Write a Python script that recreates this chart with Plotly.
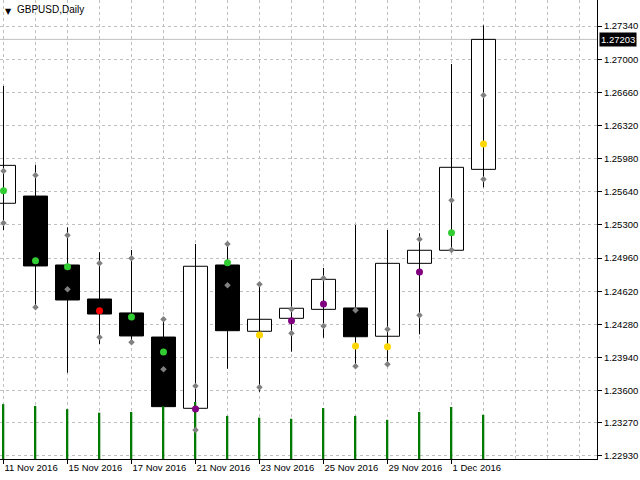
import plotly.graph_objects as go

# ---- data ----
dates = ["11 Nov 2016", "14 Nov 2016", "15 Nov 2016", "16 Nov 2016", "17 Nov 2016",
         "18 Nov 2016", "21 Nov 2016", "22 Nov 2016", "23 Nov 2016", "24 Nov 2016",
         "25 Nov 2016", "28 Nov 2016", "29 Nov 2016", "30 Nov 2016", "1 Dec 2016",
         "2 Dec 2016"]
open_ = [1.25522, 1.25596, 1.24889, 1.24540, 1.24397, 1.24150, 1.23419, 1.24889,
         1.24209, 1.24342, 1.24434, 1.24448, 1.24158, 1.24906, 1.25040, 1.25870]
high = [1.26725, 1.25914, 1.25275, 1.25019, 1.25043, 1.24335, 1.25104, 1.25114,
        1.24691, 1.24940, 1.24858, 1.25299, 1.25248, 1.25214, 1.26950, 1.27347]
low = [1.25248, 1.24427, 1.23784, 1.24079, 1.24089, 1.23433, 1.23390, 1.23825,
       1.23589, 1.24000, 1.24143, 1.23829, 1.23870, 1.24178, 1.25032, 1.25686]
close = [1.25911, 1.24879, 1.24530, 1.24386, 1.24161, 1.23436, 1.24876, 1.24215,
         1.24332, 1.24445, 1.24742, 1.24153, 1.24906, 1.25040, 1.25891, 1.27203]
volume = [154000, 149000, 140000, 130000, 132000, 148000, 160000, 121000,
          116000, 113000, 143000, 121000, 110000, 132000, 146000, 124000]
marker_a = [1.25853, 1.25809, 1.25193, 1.24906, 1.24958, 1.24332, 1.23648, 1.25104,
            1.24691, 1.24434, 1.24752, 1.24424, 1.24229, 1.25152, 1.25552, 1.26629]
marker_b = [1.25320, 1.24455, 1.24640, 1.24147, 1.24096, 1.23819, 1.23197, 1.24681,
            1.23635, 1.24188, 1.24263, 1.23850, 1.23870, 1.24373, 1.25043, 1.25768]
signal = [1.25651, 1.24933, 1.24871, 1.24420, 1.24356, 1.23997, 1.23412, 1.24912,
          1.24171, 1.24318, 1.24489, 1.24058, 1.24051, 1.24817, 1.25220, 1.26130]
signal_class = ["green", "green", "green", "red", "green", "green", "purple", "green",
                "yellow", "purple", "purple", "yellow", "yellow", "purple", "green", "yellow"]
y_ticks = [1.27340, 1.27000, 1.26660, 1.26320, 1.25980, 1.25640, 1.25300, 1.24960,
           1.24620, 1.24280, 1.23940, 1.23600, 1.23270, 1.22930]
label_every = 2
title = "GBPUSD,Daily"

# ---- styling ----
FONT = "Liberation Sans"
GRID = "#C0C0C0"
DASH = "3px,3px"
class_colors = {"green": "#32CD32", "red": "#FF0000", "purple": "#800080", "yellow": "#FFD700"}

idx = list(range(len(dates)))
y_range = [1.22899, 1.27607]
x_range = [-0.1094, 18.547]

fig = go.Figure()

# wicks (low -> high), drawn beneath the bodies
wx, wy = [], []
for i in idx:
    wx += [i, i, None]
    wy += [low[i], high[i], None]
fig.add_trace(go.Scatter(x=wx, y=wy, mode="lines", line=dict(color="black", width=1),
                         yaxis="y", hoverinfo="skip", showlegend=False))

# bodies
body_base = [min(o, c) for o, c in zip(open_, close)]
body_len = [abs(c - o) for o, c in zip(open_, close)]
body_fill = ["white" if c >= o else "black" for o, c in zip(open_, close)]
fig.add_trace(go.Bar(x=idx, y=body_len, base=body_base, width=0.75,
                     marker=dict(color=body_fill, line=dict(color="black", width=1)),
                     yaxis="y", hoverinfo="skip", showlegend=False))

# volumes
fig.add_trace(go.Bar(
    x=idx, y=volume, width=0.05, marker=dict(color="#007A00", line=dict(width=0)),
    yaxis="y2", hoverinfo="skip", showlegend=False))

# grey indicator markers
fig.add_trace(go.Scatter(
    x=idx + idx, y=marker_a + marker_b, mode="markers",
    marker=dict(symbol="diamond", size=5, color="#808080"),
    yaxis="y3", hoverinfo="skip", showlegend=False))

# coloured signal dots
for cls, col in class_colors.items():
    xs = [i for i in idx if signal_class[i] == cls]
    ys = [signal[i] for i in xs]
    fig.add_trace(go.Scatter(
        x=xs, y=ys, mode="markers",
        marker=dict(symbol="circle", size=7, color=col),
        yaxis="y3", hoverinfo="skip", showlegend=False))

tick_idx = idx[::label_every]
fig.update_layout(
    width=640, height=480,
    margin=dict(l=0, r=43, t=0, b=21),
    paper_bgcolor="white", plot_bgcolor="white",
    showlegend=False,
    font=dict(family=FONT, size=9.5, color="black"),
    xaxis=dict(
        range=x_range, tickmode="array", tickvals=tick_idx,
        ticktext=[dates[i] for i in tick_idx],
        ticks="outside", ticklen=4, tickcolor="black", tickwidth=1,
        ticklabelposition="outside right",
        showline=True, linecolor="black", linewidth=1,
        showgrid=True, gridcolor=GRID, griddash=DASH, gridwidth=1,
        minor=dict(tickmode="linear", tick0=0, dtick=1, showgrid=True,
                   gridcolor=GRID, griddash=DASH, ticklen=0),
        zeroline=False,
        tickfont=dict(family=FONT, size=9.5, color="black")),
    yaxis=dict(
        side="right", range=y_range, tickmode="array", tickvals=y_ticks,
        tickformat=".5f", ticks="outside", ticklen=4, tickcolor="black",
        showline=True, linecolor="black", linewidth=1, mirror=True,
        showgrid=True, gridcolor=GRID, griddash=DASH, gridwidth=1,
        zeroline=False, tickfont=dict(family=FONT, size=9.5, color="black")),
    yaxis2=dict(overlaying="y", range=[0, 1288421], visible=False),
    yaxis3=dict(overlaying="y", range=y_range, visible=False),
)

fig.add_shape(type="line", xref="paper", x0=0, x1=1, yref="y",
              y0=close[-1], y1=close[-1], line=dict(color=GRID, width=1), layer="below")

fig.add_annotation(xref="paper", x=1, xanchor="left", xshift=2, yref="y", y=close[-1],
                   text=f"{close[-1]:.5f}", showarrow=False, bgcolor="black",
                   font=dict(family=FONT, size=9.5, color="white"), borderpad=1)

fig.add_annotation(xref="paper", x=0, xanchor="left", xshift=3, yref="paper", y=1,
                   yanchor="top", yshift=-5, text="▼", showarrow=False,
                   font=dict(family="DejaVu Sans", size=8, color="black"))
fig.add_annotation(xref="paper", x=0, xanchor="left", xshift=15, yref="paper", y=1,
                   yanchor="top", yshift=-2, text=title, showarrow=False,
                   font=dict(family=FONT, size=10, color="black"))

fig.write_html("out.html", config={"displayModeBar": False},
               post_script="document.body.style.margin='0';document.body.style.overflow='hidden';")
